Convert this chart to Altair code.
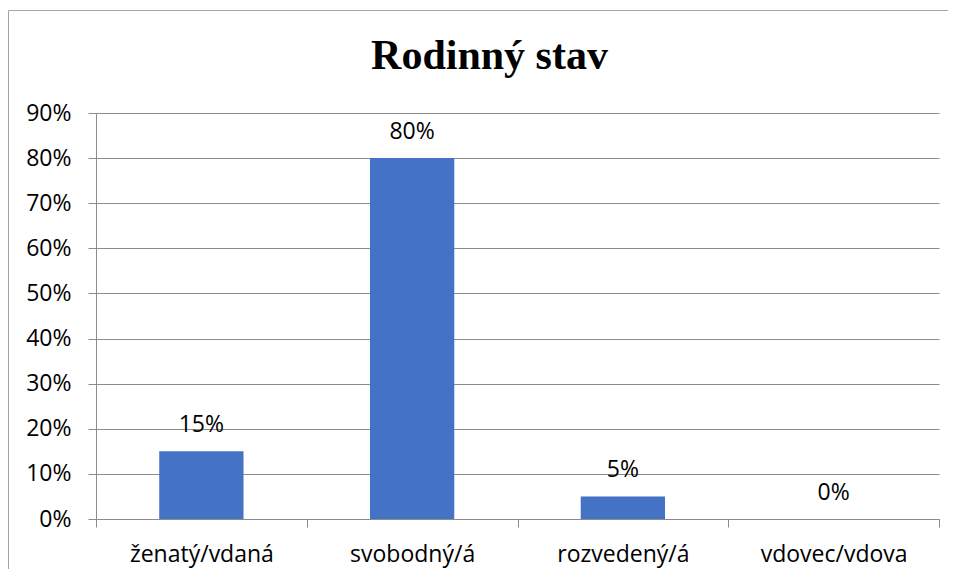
import altair as alt
import pandas as pd

categories = ["ženatý/vdaná", "svobodný/á", "rozvedený/á", "vdovec/vdova"]
shares = [0.15, 0.80, 0.05, 0.00]
y_ticks = [0.0, 0.1, 0.2, 0.3, 0.4, 0.5, 0.6, 0.7, 0.8, 0.9]
title_text = "Rodinný stav"

df = pd.DataFrame({"stav": categories, "podil": shares})

FONT = "Open Sans"
GRID = "#8c8c8c"
BAR = "#4472C4"

x = alt.X(
    "stav:N",
    sort=categories,
    title=None,
    scale=alt.Scale(paddingInner=0, paddingOuter=0),
    axis=alt.Axis(
        labelAngle=0, labelFont=FONT, labelFontSize=23, labelColor="black",
        labelBaseline="alphabetic", labelPadding=34, tickSize=8, tickColor=GRID,
        tickBand="extent", domainColor=GRID, grid=False,
    ),
)
y = alt.Y(
    "podil:Q",
    title=None,
    scale=alt.Scale(domain=[0, 0.9], nice=False),
    axis=alt.Axis(
        values=y_ticks, format=".0%", labelFont=FONT, labelFontSize=23,
        labelColor="black", labelPadding=17, tickSize=8, tickColor=GRID,
        grid=True, gridColor=GRID, domainColor=GRID,
    ),
)

base = alt.Chart(df)
bars = base.mark_bar(color=BAR, width=alt.RelativeBandSize(0.4)).encode(x=x, y=y)
labels = base.mark_text(
    font=FONT, fontSize=23, color="black", baseline="alphabetic", dy=-19
).encode(x=x, y=y, text=alt.Text("podil:Q", format=".0%"))

frame = alt.Chart(pd.DataFrame({"f": [0]})).mark_rect(
    fill="transparent", stroke="#a6a6a6", strokeWidth=1
).encode(
    x=alt.value(-87.5), x2=alt.value(1000), y=alt.value(-102.5), y2=alt.value(700)
)

chart = (
    alt.layer(frame, bars, labels)
    .properties(
        width=843,
        height=406,
        title=alt.TitleParams(
            title_text, font="Liberation Serif", fontSize=42, fontWeight="bold",
            color="black", anchor="middle", dx=-28, offset=-101, baseline="alphabetic",
        ),
        autosize=alt.AutoSizeParams(type="none"),
        padding={"left": 88, "top": 105, "right": 9, "bottom": 50},
    )
    .configure_view(strokeWidth=0)
)

chart.save("out.html", embed_options={"renderer": "svg", "actions": False})
